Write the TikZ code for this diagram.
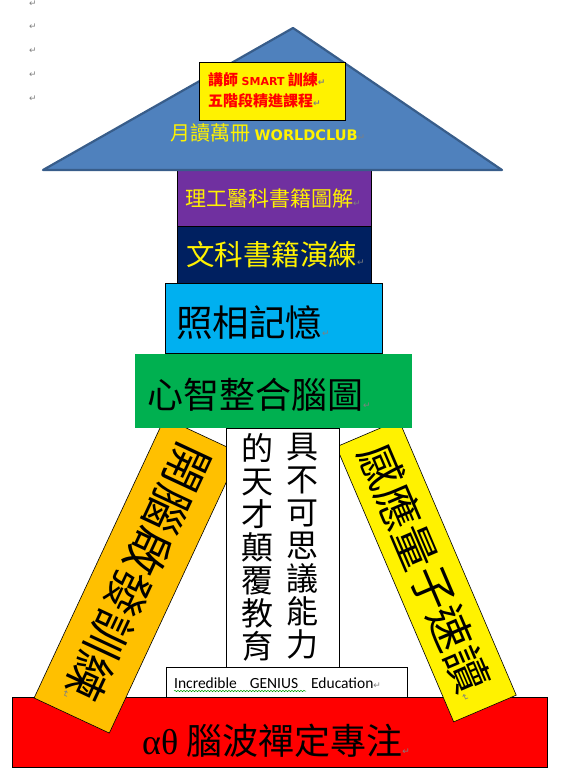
\documentclass[tikz,border=0pt]{standalone}
\usepackage{fontspec}
\setmainfont{Liberation Serif}
\newfontfamily\cjk{Noto Sans CJK TC}
\newfontfamily\dejavu{DejaVu Sans}
\newfontfamily\carlito{Carlito}
\usetikzlibrary{decorations.pathmorphing}
\definecolor{roofblue}{HTML}{4F81BD}
\definecolor{roofedge}{HTML}{385D8A}
\definecolor{tierpurple}{HTML}{7030A0}
\definecolor{tiernavy}{HTML}{002060}
\definecolor{tiercyan}{HTML}{00B0F0}
\definecolor{tiergreen}{HTML}{00B050}
\definecolor{pillarorange}{HTML}{FFC000}
\definecolor{markgray}{HTML}{808080}
\newcommand\fsz[1]{\fontsize{#1}{#1}\selectfont}
\newcommand\retmk{{\dejavu\fontsize{9}{9}\selectfont\textcolor{markgray}{↵}}}
\tikzset{
  tier/.style={rectangle, draw=black, line width=0.8pt, inner sep=0pt, anchor=north west},
  lbl/.style={anchor=west, inner sep=0pt, font=\cjk},
  pillar/.style={rectangle, draw=black, line width=0.6pt, inner sep=0pt, font=\cjk\fsz{46}},
  vcol/.style={anchor=north, inner sep=0pt, align=center, font=\cjk\fontsize{32}{33}\selectfont},
}
\begin{document}
\begin{tikzpicture}[x=1pt, y=-1pt]
  \useasboundingbox (0,0) rectangle (563,775);
  % paragraph marks down the left margin
  \foreach \i/\y in {1/4, 2/27, 3/51, 4/75, 5/99}
    \node[inner sep=0pt] (mk\i) at (33,\y) {\retmk};

  % base
  \node[tier, fill=red, minimum width=535, minimum height=70] (base) at (12,697) {};
  \node[lbl] (baselbl) at (142,741) {\fsz{36}{\rmfamily αθ} 腦波禪定專注\retmk};

  % pillars
  \node[pillar, fill=pillarorange, minimum width=309, minimum height=83, rotate=-115] (left) at (137,575.5) {開腦啟發訓練\retmk};
  \node[pillar, fill=yellow, minimum width=299, minimum height=68, rotate=-66.9, font=\cjk\fsz{44}] (right) at (426.3,571) {感應量子速讀\retmk};

  % centre column
  \node[tier, fill=white, minimum width=113, minimum height=250] (core) at (226,428) {};
  \node[vcol] (colR) at (302,433) {具\\不\\可\\思\\議\\能\\力};
  \node[vcol] (colL) at (257,433) {的\\天\\才\\顛\\覆\\教\\育};
  \node[tier, fill=white, minimum width=241, minimum height=30] (tag) at (166,667) {};
  \node[anchor=base west, inner sep=0pt, font=\carlito\fsz{15.5}] (taglbl) at (174,688) {Incredible\hspace{13pt}GENIUS\hspace{13pt}Education\retmk};
  \draw[green!60!black, line width=0.5pt, decorate, decoration={snake, amplitude=0.7pt, segment length=3pt}]
    ([yshift=-3pt]taglbl.base west) -- ++(132,0);

  % tiers
  \node[tier, draw=none, fill=tiergreen, minimum width=277, minimum height=74] (mind) at (135,354) {};
  \node[lbl] (mindlbl) at (147,395) {\fsz{36}心智整合腦圖\retmk};
  \node[tier, fill=tiercyan, minimum width=217, minimum height=70] (photo) at (165,283) {};
  \node[lbl] (photolbl) at (176,323) {\fsz{36.5}照相記憶\retmk};
  \node[tier, fill=tiernavy, minimum width=194, minimum height=57] (arts) at (177,226) {};
  \node[lbl, text=yellow] (artslbl) at (186,255) {\fsz{28.5}文科書籍演練\retmk};
  \node[tier, fill=tierpurple, minimum width=194, minimum height=56] (sci) at (177,170) {};
  \node[lbl, text=yellow] (scilbl) at (185,198) {\fsz{21}理工醫科書籍圖解\retmk};

  % roof
  \coordinate (apex) at (293,28);
  \coordinate (eaveL) at (43,170);
  \coordinate (eaveR) at (502,170);
  \filldraw[fill=roofblue, draw=roofedge, line width=2.2pt, line join=round] (apex) -- (eaveR) -- (eaveL) -- cycle;
  \node[lbl, text=yellow] (roof) at (170,133) {\fsz{20}月讀萬冊 {\dejavu\bfseries\fsz{14.5}WORLDCLUB}\retmk};

  % sign
  \node[tier, fill=yellow, minimum width=146, minimum height=58] (sign) at (199,62) {};
  \node[anchor=north west, inner sep=0pt, align=left, text=red, font=\cjk\bfseries\fontsize{15}{21}\selectfont] (signlbl) at (208,72) {講師 {\dejavu\fsz{11}SMART} 訓練\retmk\\五階段精進課程\retmk};
\end{tikzpicture}
\end{document}
